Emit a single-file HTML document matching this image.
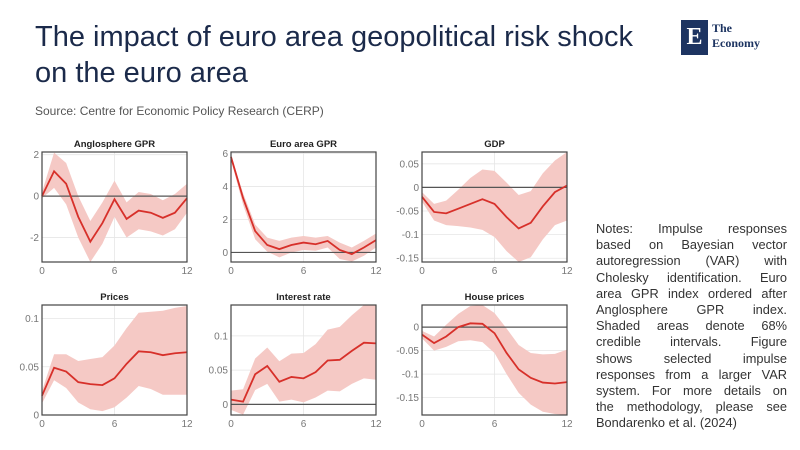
<!DOCTYPE html>
<html><head><meta charset="utf-8"><style>
body{margin:0;width:800px;height:450px;background:#fff;font-family:"Liberation Sans",sans-serif;position:relative;overflow:hidden}
.t{position:absolute;left:35px;top:19px;font-size:29px;line-height:36px;color:#1b2a4a}
.s{position:absolute;left:35px;top:104px;font-size:12px;color:#555}
.n{position:absolute;left:596px;top:221px;width:191px;font-size:12.8px;line-height:16.2px;color:#333}
.n div{text-align:justify;text-align-last:justify;white-space:nowrap}
.n div.l{text-align-last:left}
.logo{position:absolute;left:681px;top:20px}
</style></head><body>
<div class="t">The impact of euro area geopolitical risk shock<br>on the euro area</div>
<div class="s">Source: Centre for Economic Policy Research (CERP)</div>
<div class="logo"><div style="position:absolute;left:0;top:0;width:27px;height:35px;background:#1d3461;color:#fff;font:bold 24px 'Liberation Serif',serif;text-align:center;line-height:35px">E</div><div style="position:absolute;left:31px;top:1px;font:bold 12px 'Liberation Serif',serif;color:#1d3461;line-height:15px;white-space:nowrap">The<br>Economy</div></div>
<div class="n"><div>Notes: Impulse responses</div><div>based on Bayesian vector</div><div>autoregression (VAR) with</div><div>Cholesky identification. Euro</div><div>area GPR index ordered after</div><div>Anglosphere GPR index.</div><div>Shaded areas denote 68%</div><div>credible intervals. Figure</div><div>shows selected impulse</div><div>responses from a larger VAR</div><div>system. For more details on</div><div>the methodology, please see</div><div class="l">Bondarenko et al. (2024)</div></div>
<svg id="c" width="800" height="450" style="position:absolute;left:0;top:0" font-family="Liberation Sans,sans-serif"></svg>
<script>
var P=[
{t:"Anglosphere GPR",x:42,y:152,lo:-3.18,hi:2.13,ticks:[[2,"2"],[0,"0"],[-2,"-2"]],
m:[0,1.2,0.6,-1.0,-2.2,-1.3,-0.15,-1.1,-0.7,-0.8,-1.05,-0.8,-0.1],
u:[0.2,2.1,1.6,0,-1.2,-0.3,0.75,-0.3,0.2,0.1,-0.2,0.1,0.6],
l:[-0.1,0.4,-0.4,-2.0,-3.2,-2.3,-1.0,-2.0,-1.6,-1.7,-1.9,-1.6,-0.8]},
{t:"Euro area GPR",x:231,y:152,lo:-0.58,hi:6.1,ticks:[[6,"6"],[4,"4"],[2,"2"],[0,"0"]],
m:[5.8,3.3,1.3,0.45,0.2,0.45,0.6,0.5,0.7,0.15,-0.1,0.3,0.75],
u:[5.9,3.6,1.7,0.9,0.7,0.9,1.0,0.9,1.0,0.6,0.3,0.7,1.15],
l:[5.6,2.9,0.8,0.05,-0.3,0,0.15,0.1,0.3,-0.4,-0.55,-0.2,0.3]},
{t:"GDP",x:422,y:152,lo:-0.158,hi:0.075,ticks:[[0.05,"0.05"],[0,"0"],[-0.05,"-0.05"],[-0.1,"-0.1"],[-0.15,"-0.15"]],
m:[-0.02,-0.052,-0.055,-0.045,-0.035,-0.025,-0.035,-0.063,-0.087,-0.075,-0.04,-0.01,0.004],
u:[-0.01,-0.035,-0.028,-0.005,0.02,0.038,0.035,0.01,-0.016,-0.008,0.03,0.057,0.075],
l:[-0.03,-0.07,-0.08,-0.082,-0.085,-0.09,-0.105,-0.135,-0.158,-0.148,-0.11,-0.08,-0.07]},
{t:"Prices",x:42,y:305,lo:0,hi:0.114,ticks:[[0.1,"0.1"],[0.05,"0.05"],[0,"0"]],
m:[0.02,0.049,0.045,0.034,0.032,0.031,0.038,0.053,0.066,0.065,0.062,0.064,0.065],
u:[0.025,0.063,0.063,0.056,0.058,0.06,0.072,0.09,0.106,0.107,0.108,0.111,0.113],
l:[0.012,0.036,0.028,0.013,0.006,0.004,0.008,0.018,0.03,0.027,0.021,0.021,0.021],nozero:1},
{t:"Interest rate",x:231,y:305,lo:-0.0155,hi:0.145,ticks:[[0.1,"0.1"],[0.05,"0.05"],[0,"0"]],
m:[0.007,0.004,0.044,0.056,0.033,0.04,0.038,0.047,0.064,0.065,0.078,0.09,0.089],
u:[0.02,0.022,0.067,0.083,0.063,0.074,0.075,0.088,0.109,0.113,0.13,0.145,0.145],
l:[-0.008,-0.015,0.021,0.03,0.004,0.007,0.003,0.01,0.02,0.019,0.03,0.038,0.036]},
{t:"House prices",x:422,y:305,lo:-0.187,hi:0.047,ticks:[[0,"0"],[-0.05,"-0.05"],[-0.1,"-0.1"],[-0.15,"-0.15"]],
m:[-0.016,-0.034,-0.02,0,0.008,0.007,-0.013,-0.055,-0.09,-0.108,-0.118,-0.12,-0.117],
u:[-0.008,-0.02,0.005,0.028,0.045,0.047,0.03,-0.003,-0.038,-0.055,-0.058,-0.057,-0.048],
l:[-0.024,-0.05,-0.042,-0.03,-0.028,-0.032,-0.055,-0.1,-0.14,-0.165,-0.18,-0.185,-0.187]}];
var W=145,H=110,s='';
P.forEach(function(p){
 var X=function(i){return p.x+i*W/12},Y=function(v){v=Math.max(p.lo,Math.min(p.hi,v));return p.y+(p.hi-v)/(p.hi-p.lo)*H};
 s+='<rect x="'+p.x+'" y="'+p.y+'" width="'+W+'" height="'+H+'" fill="#fff"/>';
 p.ticks.forEach(function(t){var y=Y(t[0]);s+='<line x1="'+p.x+'" x2="'+(p.x+W)+'" y1="'+y+'" y2="'+y+'" stroke="#e6e6e6" stroke-width="0.8"/><text x="'+(p.x-3)+'" y="'+(y+3.5)+'" font-size="10" fill="#777" text-anchor="end">'+t[1]+'</text>';});
 s+='<line x1="'+X(6)+'" x2="'+X(6)+'" y1="'+p.y+'" y2="'+(p.y+H)+'" stroke="#e6e6e6" stroke-width="0.8"/>';
 var a=[];for(var i=0;i<13;i++)a.push(X(i)+','+Y(p.u[i]));for(i=12;i>=0;i--)a.push(X(i)+','+Y(p.l[i]));
 s+='<polygon points="'+a.join(' ')+'" fill="#f5c9c5"/>';
 if(!p.nozero)s+='<line x1="'+p.x+'" x2="'+(p.x+W)+'" y1="'+Y(0)+'" y2="'+Y(0)+'" stroke="#555" stroke-width="1.2"/>';
 var m=[];for(i=0;i<13;i++)m.push(X(i)+','+Y(p.m[i]));
 s+='<polyline points="'+m.join(' ')+'" fill="none" stroke="#d7302a" stroke-width="1.8"/>';
 s+='<rect x="'+p.x+'" y="'+p.y+'" width="'+W+'" height="'+H+'" fill="none" stroke="#444" stroke-width="1.2"/>';
 [[0,"0"],[6,"6"],[12,"12"]].forEach(function(t){s+='<text x="'+X(t[0])+'" y="'+(p.y+H+12)+'" font-size="10" fill="#777" text-anchor="middle">'+t[1]+'</text>';});
 s+='<text x="'+(p.x+W/2)+'" y="'+(p.y-5)+'" font-size="9.5" font-weight="bold" fill="#222" text-anchor="middle">'+p.t+'</text>';
});
document.getElementById('c').innerHTML=s;
</script>
</body></html>
